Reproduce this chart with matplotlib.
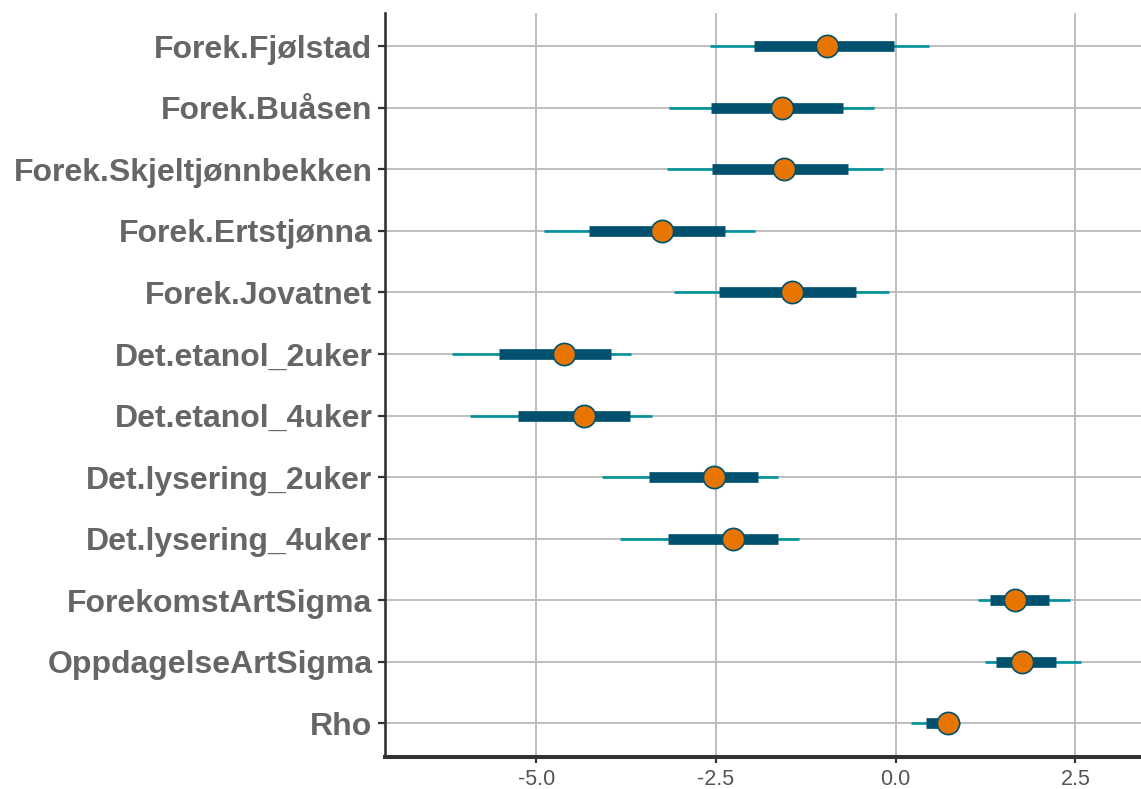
import matplotlib
matplotlib.use("Agg")
import matplotlib.pyplot as plt
import numpy as np

labels = ["Forek.Fjølstad", "Forek.Buåsen", "Forek.Skjeltjønnbekken", "Forek.Ertstjønna",
          "Forek.Jovatnet", "Det.etanol_2uker", "Det.etanol_4uker", "Det.lysering_2uker",
          "Det.lysering_4uker", "ForekomstArtSigma", "OppdagelseArtSigma", "Rho"]
point = [-0.956, -1.582, -1.559, -3.252, -1.447, -4.615, -4.341, -2.533, -2.268, 1.665, 1.753, 0.732]
inner_lo = [-1.967, -2.570, -2.556, -4.272, -2.459, -5.520, -5.255, -3.437, -3.173, 1.308, 1.400, 0.422]
inner_hi = [-0.024, -0.729, -0.659, -2.380, -0.552, -3.966, -3.693, -1.911, -1.633, 2.138, 2.235, 0.850]
outer_lo = [-2.584, -3.159, -3.182, -4.898, -3.085, -6.178, -5.923, -4.087, -3.836, 1.145, 1.247, 0.213]
outer_hi = [0.459, -0.298, -0.181, -1.953, -0.089, -3.679, -3.395, -1.633, -1.350, 2.421, 2.578, 0.900]
xticks = [-5.0, -2.5, 0.0, 2.5]
xticklabels = ["-5.0", "-2.5", "0.0", "2.5"]

fig = plt.figure(figsize=(11.41, 7.89), dpi=100)
ax = fig.add_axes([385/1141, 1 - 756.7/789, 1 - 385/1141, (756.7 - 12.7)/789])

n = len(labels)
ypos = np.arange(n, 0, -1)

ax.set_xlim(-7.105, 3.413)
ax.set_ylim(0.457, n + 0.546)

grid_c = "#BEBEBE"
for xt in xticks:
    ax.axvline(xt, color=grid_c, lw=1.4, zorder=0)
for y in ypos:
    ax.axhline(y, color=grid_c, lw=1.4, zorder=0)

thin_c = "#00929A"
thick_c = "#00506E"
for i, y in enumerate(ypos):
    ax.plot([outer_lo[i], outer_hi[i]], [y, y], color=thin_c, lw=1.9, solid_capstyle="butt", zorder=2)
    ax.plot([inner_lo[i], inner_hi[i]], [y, y], color=thick_c, lw=7.7, solid_capstyle="butt", zorder=3)
    ax.plot(point[i], y, "o", ms=16, mfc="#E77500", mec=thick_c, mew=1.2, zorder=4)

ax.set_yticks(ypos)
ax.set_yticklabels(labels, fontsize=23, fontweight="bold", color="#666666", family="Liberation Sans")
ax.set_xticks(xticks)
ax.set_xticklabels(xticklabels, fontsize=15.5, color="#555555", family="Liberation Sans")

for s in ["top", "right"]:
    ax.spines[s].set_visible(False)
ax.spines["left"].set_linewidth(1.9)
ax.spines["left"].set_color("#333333")
ax.spines["bottom"].set_linewidth(2.9)
ax.spines["bottom"].set_color("#333333")
ax.tick_params(axis="y", length=5, width=1.6, color="#333333", pad=4)
ax.tick_params(axis="x", length=4, width=1.6, color="#333333", pad=5)

fig.savefig("out.png", dpi=100)
